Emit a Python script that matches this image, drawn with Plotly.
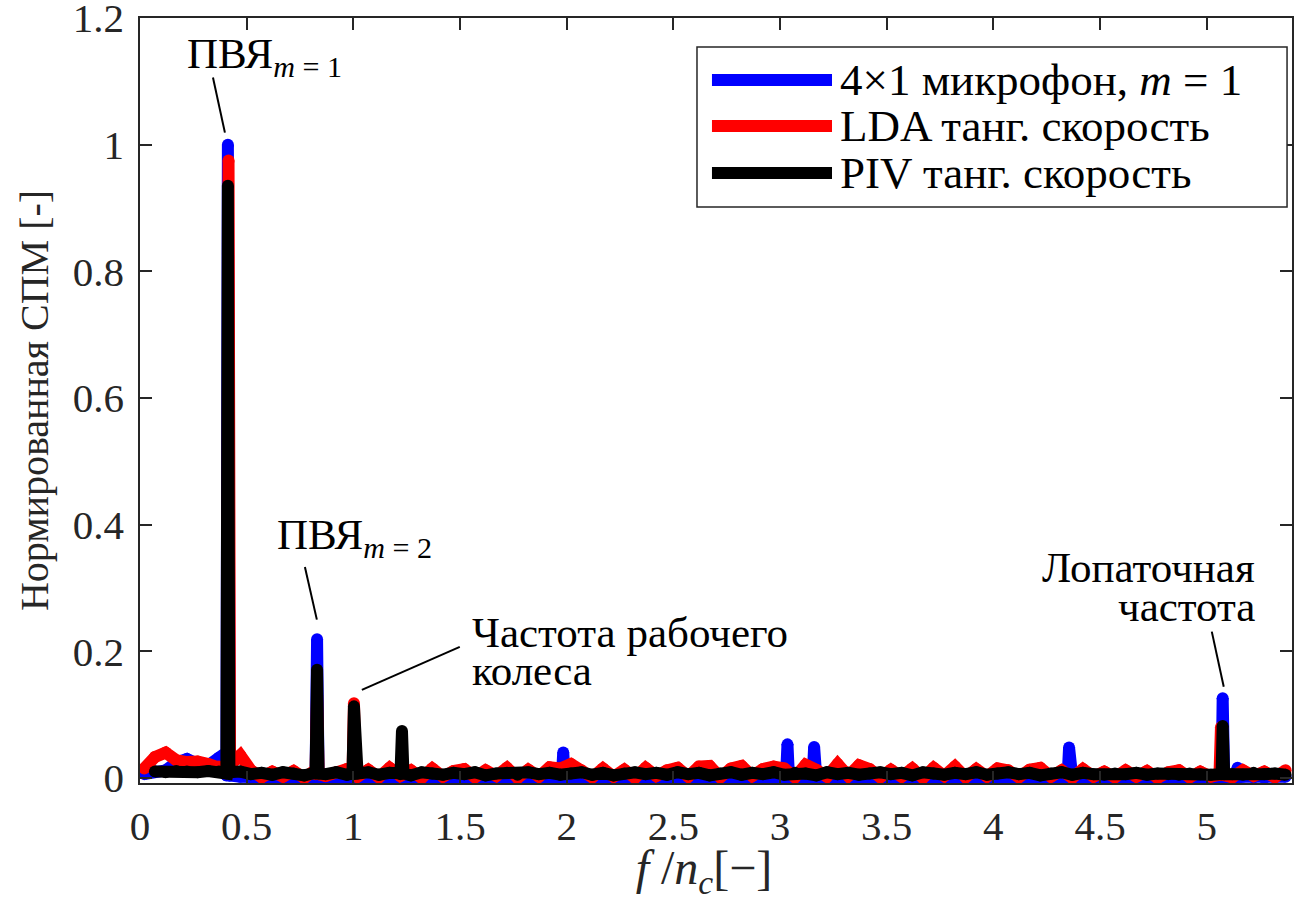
import numpy as np
import plotly.graph_objects as go

# Frequency bins of the spectra (f / n_c), common to all three sensors
FREQ_START = 0.02
FREQ_STEP = 0.05
N_BINS = 108

# Broadband floor of each normalised PSD, one value per frequency bin
mic_floor = [
    0.006, 0.010, 0.012, 0.024, 0.030, 0.022, 0.020, 0.032, 0.004, 0.002,
    0.001, 0.000, 0.002, 0.001, 0.000, 0.002, 0.001, 0.000, 0.001, 0.002,
    0.000, 0.001, 0.002, 0.000, 0.001, 0.002, 0.001, 0.000, 0.002, 0.001,
    0.000, 0.002, 0.001, 0.000, 0.001, 0.002, 0.000, 0.001, 0.002, 0.001,
    0.002, 0.000, 0.001, 0.002, 0.000, 0.001, 0.002, 0.001, 0.000, 0.001,
    0.002, 0.001, 0.000, 0.002, 0.001, 0.000, 0.001, 0.002, 0.000, 0.001,
    0.001, 0.000, 0.002, 0.001, 0.000, 0.002, 0.001, 0.000, 0.001, 0.002,
    0.000, 0.001, 0.002, 0.000, 0.001, 0.002, 0.001, 0.000, 0.002, 0.001,
    0.000, 0.002, 0.001, 0.000, 0.001, 0.002, 0.000, 0.001, 0.002, 0.001,
    0.002, 0.000, 0.001, 0.002, 0.000, 0.001, 0.002, 0.001, 0.000, 0.001,
    0.002, 0.001, 0.000, 0.002, 0.001, 0.000, 0.001, 0.002,
]
lda_floor = [
    0.015, 0.033, 0.040, 0.028, 0.025, 0.026, 0.022, 0.018, 0.022, 0.036,
    0.012, 0.001, 0.010, 0.002, 0.011, 0.000, 0.012, 0.003, 0.009, 0.014,
    0.002, 0.013, 0.001, 0.016, 0.003, 0.012, 0.000, 0.015, 0.002, 0.011,
    0.014, 0.001, 0.012, 0.003, 0.016, 0.000, 0.013, 0.002, 0.017, 0.015,
    0.022, 0.012, 0.001, 0.015, 0.002, 0.013, 0.000, 0.016, 0.003, 0.012,
    0.016, 0.002, 0.018, 0.019, 0.001, 0.015, 0.019, 0.003, 0.014, 0.018,
    0.015, 0.001, 0.021, 0.013, 0.002, 0.022, 0.003, 0.020, 0.014, 0.001,
    0.013, 0.002, 0.015, 0.000, 0.016, 0.003, 0.018, 0.001, 0.014, 0.002,
    0.015, 0.012, 0.001, 0.013, 0.016, 0.002, 0.012, 0.000, 0.014, 0.002,
    0.010, 0.001, 0.012, 0.002, 0.011, 0.000, 0.009, 0.012, 0.001, 0.010,
    0.002, 0.011, 0.001, 0.012, 0.003, 0.010, 0.001, 0.012,
]
piv_floor = [
    None, 0.010, 0.009, 0.011, 0.010, 0.009, 0.011, 0.010, 0.009, 0.010,
    0.006, 0.008, 0.005, 0.009, 0.007, 0.004, 0.008, 0.006, 0.009, 0.005,
    0.007, 0.009, 0.005, 0.008, 0.006, 0.004, 0.009, 0.007, 0.005, 0.008,
    0.006, 0.009, 0.004, 0.007, 0.008, 0.005, 0.009, 0.006, 0.008, 0.005,
    0.007, 0.009, 0.005, 0.008, 0.004, 0.007, 0.009, 0.006, 0.008, 0.005,
    0.009, 0.006, 0.008, 0.004, 0.007, 0.009, 0.005, 0.008, 0.006, 0.009,
    0.005, 0.008, 0.007, 0.004, 0.009, 0.006, 0.008, 0.005, 0.007, 0.009,
    0.006, 0.008, 0.004, 0.009, 0.007, 0.005, 0.008, 0.006, 0.009, 0.005,
    0.007, 0.009, 0.006, 0.008, 0.004, 0.007, 0.009, 0.005, 0.008, 0.006,
    0.005, 0.007, 0.006, 0.008, 0.005, 0.007, 0.006, 0.005, 0.007, 0.006,
    0.005, 0.007, 0.006, 0.005, 0.008, 0.006, 0.007, 0.005,
]

# Narrow tonal peaks (fine-resolution bins around each tone)
mic_peak_f = [0.405, 0.412, 0.419, 0.823, 0.830, 0.837, 1.977, 1.984, 1.991,
              3.028, 3.035, 3.042, 3.153, 3.160, 3.167, 4.348, 4.355, 4.362,
              5.068, 5.075, 5.082, 5.138, 5.145, 5.152]
mic_peak_v = [0.004, 1.000, 0.004, 0.001, 0.219, 0.001, 0.001, 0.040, 0.001,
              0.001, 0.053, 0.001, 0.001, 0.049, 0.001, 0.001, 0.048, 0.001,
              0.001, 0.126, 0.001, 0.001, 0.016, 0.001]
lda_peak_f = [0.408, 0.415, 0.422, 0.823, 0.830, 0.837, 0.996, 1.003, 1.010,
              5.060, 5.067, 5.074]
lda_peak_v = [0.012, 0.975, 0.020, 0.006, 0.130, 0.006, 0.006, 0.118, 0.006,
              0.005, 0.080, 0.005]
piv_peak_f = [0.405, 0.412, 0.419, 0.823, 0.830, 0.837, 0.996, 1.003, 1.010,
              1.221, 1.228, 1.235, 5.068, 5.075, 5.082]
piv_peak_v = [0.007, 0.935, 0.007, 0.007, 0.171, 0.007, 0.007, 0.113, 0.007,
              0.007, 0.074, 0.007, 0.006, 0.082, 0.006]

series_names = ["4×1 микрофон, <i>m</i> = 1", "LDA танг. скорость", "PIV танг. скорость"]
series_colors = ["#0000ff", "#ff0000", "#000000"]

# Labelled features: text lines and leader-line end points (data units)
label_lines = [
    ("ПВЯ<sub><i>m</i> = 1</sub>", 0.211, 1.139, "left"),
    ("ПВЯ<sub><i>m</i> = 2</sub>", 0.633, 0.379, "left"),
    ("Частота рабочего", 1.546, 0.229, "left"),
    ("колеса", 1.546, 0.169, "left"),
    ("Лопаточная", 5.234, 0.333, "right"),
    ("частота", 5.234, 0.270, "right"),
]
leader_lines = [
    (0.342, 1.106, 0.398, 1.019),
    (0.773, 0.333, 0.829, 0.250),
    (1.499, 0.207, 1.040, 0.139),
    (5.024, 0.231, 5.080, 0.144),
]

freq_grid = np.round(FREQ_START + FREQ_STEP * np.arange(N_BINS), 3)


def spectrum(floor, peak_f, peak_v):
    pts = [(f, v) for f, v in zip(freq_grid, floor) if v is not None]
    pts += list(zip(peak_f, peak_v))
    pts.sort(key=lambda p: p[0])
    return [p[0] for p in pts], [p[1] for p in pts]


spectra = [
    spectrum(mic_floor, mic_peak_f, mic_peak_v),
    spectrum(lda_floor, lda_peak_f, lda_peak_v),
    spectrum(piv_floor, piv_peak_f, piv_peak_v),
]

SERIF = "Liberation Serif"
AXIS_COLOR = "#262626"
LINE_W = 12

fig = go.Figure()
for k, ((fx, fy), name, color) in enumerate(zip(spectra, series_names, series_colors)):
    # thick line with round dots at every sample (round caps / joins)
    fig.add_trace(go.Scatter(
        x=fx, y=fy, name=name, mode="lines", showlegend=False,
        line=dict(color=color, width=LINE_W),
    ))
    fig.add_trace(go.Scatter(
        x=fx, y=fy, mode="markers", showlegend=False,
        marker=dict(color=color, size=LINE_W, line=dict(width=0)),
        hoverinfo="skip",
    ))

for text, x, y, anchor in label_lines:
    fig.add_annotation(x=x, y=y, xref="x", yref="y", text=text, showarrow=False,
                       xanchor=anchor, yanchor="middle",
                       font=dict(family=SERIF, size=43, color="#000000"))

for x0, y0, x1, y1 in leader_lines:
    fig.add_shape(type="line", xref="x", yref="y", x0=x0, y0=y0, x1=x1, y1=y1,
                  line=dict(color="#000000", width=2))

# Legend box (axes-fraction units): frame, line samples and entry texts
LEG_X0, LEG_X1, LEG_Y0, LEG_Y1 = 0.4835, 0.9957, 0.7529, 0.9621
LEG_SAMPLE_X0, LEG_SAMPLE_X1, LEG_TEXT_X = 0.4965, 0.6007, 0.6059
LEG_ROWS = [0.9190, 0.8588, 0.7974]

fig.add_shape(type="rect", xref="paper", yref="paper",
              x0=LEG_X0, x1=LEG_X1, y0=LEG_Y0, y1=LEG_Y1,
              line=dict(color=AXIS_COLOR, width=1.5), fillcolor="white", layer="above")
for row_y, name, color in zip(LEG_ROWS, series_names, series_colors):
    fig.add_shape(type="line", xref="paper", yref="paper",
                  x0=LEG_SAMPLE_X0, x1=LEG_SAMPLE_X1, y0=row_y, y1=row_y,
                  line=dict(color=color, width=LINE_W), layer="above")
    fig.add_annotation(x=LEG_TEXT_X, y=row_y, xref="paper", yref="paper", text=name,
                       showarrow=False, xanchor="left", yanchor="middle",
                       font=dict(family=SERIF, size=45, color="#000000"))

axis_common = dict(
    showline=True, linecolor=AXIS_COLOR, linewidth=1.5, mirror="ticks",
    ticks="inside", ticklen=12, tickwidth=1.5, tickcolor=AXIS_COLOR,
    showgrid=False, zeroline=False, ticklabeloverflow="allow", automargin=False,
    tickfont=dict(family=SERIF, size=41, color=AXIS_COLOR),
)

fig.update_layout(
    width=1303, height=901,
    margin=dict(l=140, r=11, t=18, b=118),
    paper_bgcolor="white", plot_bgcolor="white",
    font=dict(family=SERIF, color=AXIS_COLOR),
    xaxis=dict(range=[0, 5.4], tick0=0, dtick=0.5, ticklabelstandoff=6,
               title=dict(text="<i>f</i> /<i>n</i><sub><i>c</i></sub>[−]&nbsp;&nbsp;",
                          font=dict(family=SERIF, size=48, color=AXIS_COLOR), standoff=8),
               **axis_common),
    yaxis=dict(range=[-0.008, 1.2], tickvals=[0, 0.2, 0.4, 0.6, 0.8, 1.0, 1.2],
               ticklabelstandoff=6,
               title=dict(text="Нормированная СПМ [-]",
                          font=dict(family=SERIF, size=40, color=AXIS_COLOR), standoff=12),
               **axis_common),
    showlegend=False,
)

fig.write_html("out.html")
